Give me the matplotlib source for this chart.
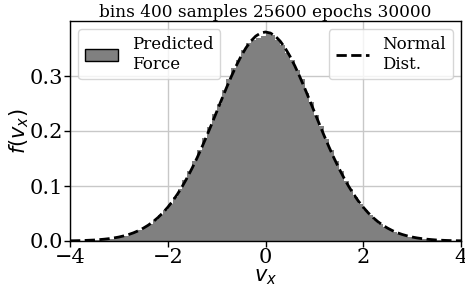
import matplotlib
matplotlib.use("Agg")
import matplotlib.pyplot as plt
import numpy as np
from matplotlib.patches import Patch

# histogram bin edges (-4..4, width 0.1) and heights
bin_edges = [round(-4.0 + 0.1 * i, 1) for i in range(81)]
hist_right = [0.3790, 0.3745, 0.3660, 0.3560, 0.3420, 0.3300, 0.3110, 0.2940, 0.2700, 0.2520,
              0.2290, 0.2090, 0.1860, 0.1660, 0.1460, 0.1270, 0.1100, 0.0945, 0.0800, 0.0675,
              0.0565, 0.0465, 0.0385, 0.0310, 0.0250, 0.0200, 0.0157, 0.0123, 0.0095, 0.0073,
              0.0056, 0.0042, 0.0032, 0.0023, 0.0017, 0.0012, 0.0009, 0.0006, 0.0005, 0.0003]
hist_left = [0.3720, 0.3700, 0.3650, 0.3600, 0.3470, 0.3300, 0.3140, 0.2950, 0.2740, 0.2500,
             0.2310, 0.2080, 0.1870, 0.1660, 0.1460, 0.1280, 0.1105, 0.0945, 0.0805, 0.0677,
             0.0565, 0.0467, 0.0383, 0.0311, 0.0250, 0.0199, 0.0157, 0.0123, 0.0095, 0.0073,
             0.0056, 0.0042, 0.0032, 0.0023, 0.0017, 0.0012, 0.0009, 0.0006, 0.0005, 0.0003]
hist_heights = hist_left[::-1] + hist_right

# normal curve read at 0.1 steps from -4 to 4 (right half, symmetric)
curve_half = [0.3800, 0.3781, 0.3725, 0.3634, 0.3511, 0.3360, 0.3184, 0.2990, 0.2783, 0.2567,
              0.2348, 0.2129, 0.1915, 0.1708, 0.1511, 0.1327, 0.1155, 0.0997, 0.0854, 0.0726,
              0.0613, 0.0513, 0.0426, 0.0351, 0.0287, 0.0233, 0.0187, 0.0149, 0.0118, 0.0093,
              0.0072, 0.0056, 0.0043, 0.0033, 0.0025, 0.0018, 0.0014, 0.0010, 0.0007, 0.0005,
              0.0004]
curve_x = [round(-4.0 + 0.1 * i, 1) for i in range(81)]
curve_y = curve_half[::-1] + curve_half[1:]

title = "bins 400 samples 25600 epochs 30000"
xticks = [-4, -2, 0, 2, 4]
yticks = [0.0, 0.1, 0.2, 0.3]

fig = plt.figure(figsize=(4.65, 2.91), dpi=100)
ax = fig.add_axes([70 / 465, 50 / 291, 391 / 465, 220 / 291])

lefts = bin_edges[:-1]
widths = [b - a for a, b in zip(bin_edges[:-1], bin_edges[1:])]
ax.bar(lefts, hist_heights, width=widths, align="edge", color="#808080",
       edgecolor="none", linewidth=0, zorder=2)
line, = ax.plot(curve_x, curve_y, color="black", linestyle="--", linewidth=2, zorder=3)

ax.set_xlim(-4, 4)
ax.set_ylim(0, 0.4)
ax.set_xticks(xticks)
ax.set_yticks(yticks)
ax.set_xticklabels([f"{t}".replace("-", "\u2212") for t in xticks], family="DejaVu Serif", fontsize=15)
ax.set_yticklabels([f"{t:.1f}" for t in yticks], family="DejaVu Serif", fontsize=15)
ax.tick_params(length=4, width=1, pad=1)
ax.grid(True, color="#c8c8c8", linewidth=1, zorder=0)
ax.set_axisbelow(True)
for s in ax.spines.values():
    s.set_color("black")
    s.set_linewidth(1)

ax.set_xlabel(r"$v_x$", fontsize=15, labelpad=0)
ax.set_ylabel(r"$f(v_x)$", fontsize=15, labelpad=-1)
ax.set_title(title, family="DejaVu Serif", fontsize=12.2, pad=3)

leg1 = ax.legend([Patch(facecolor="#808080", edgecolor="black")], ["Predicted\nForce"],
                 loc="upper left", prop={"family": "DejaVu Serif", "size": 12},
                 handlelength=2.0, handletextpad=0.8, borderaxespad=0.5)
ax.add_artist(leg1)
ax.legend([line], ["Normal\nDist."], loc="upper right",
          prop={"family": "DejaVu Serif", "size": 12},
          handlelength=2.0, handletextpad=0.8, borderaxespad=0.5)

fig.savefig("out.png", dpi=100)
